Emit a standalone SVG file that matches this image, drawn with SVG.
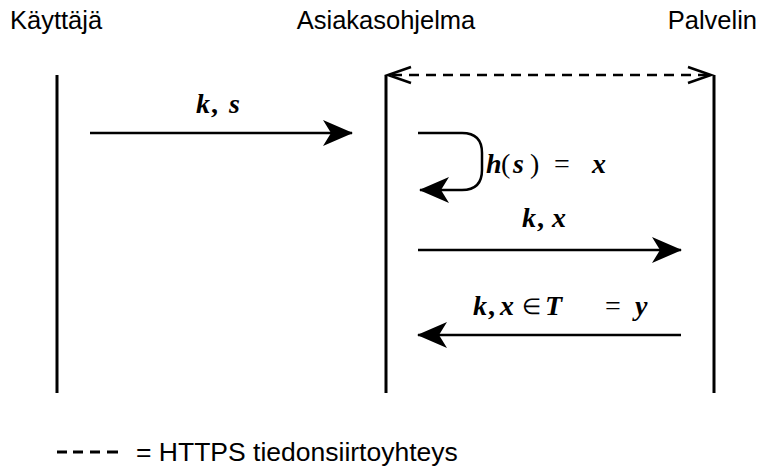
<svg xmlns="http://www.w3.org/2000/svg" width="760" height="466" viewBox="0 0 760 466">
<style>
.hdr{font-family:"Liberation Sans",Arial,sans-serif;font-size:25.5px;fill:#000}
.leg{font-family:"Liberation Sans",Arial,sans-serif;font-size:26.5px;fill:#000}
.m{font-family:"Liberation Serif","Times New Roman",serif;font-size:28px;font-weight:bold;fill:#000}
.v{font-style:italic}
.o{font-weight:normal}
.life{stroke:#000;stroke-width:3;fill:none}
.msg{stroke:#000;stroke-width:2.5;fill:none;marker-end:url(#ah)}
.dash{stroke:#000;stroke-width:2.5;fill:none;stroke-dasharray:10 7}
.chev{stroke:#000;stroke-width:2.5;fill:none}
</style>
<defs>
<marker id="ah" viewBox="0 0 30 26" refX="29" refY="13" markerWidth="30" markerHeight="26" markerUnits="userSpaceOnUse" orient="auto">
<path d="M0,0 L30,13 L0,26 L8,13 Z" fill="#000"/>
</marker>
</defs>
<rect width="760" height="466" fill="#fff"/>
<g id="kayttaja">
<text class="hdr" x="10" y="29">Käyttäjä</text>
<line class="life" x1="57" y1="75" x2="57" y2="393"/>
</g>
<g id="asiakasohjelma">
<text class="hdr" x="386" y="29" text-anchor="middle">Asiakasohjelma</text>
<line class="life" x1="386" y1="75" x2="386" y2="393"/>
</g>
<g id="palvelin">
<text class="hdr" x="757" y="29" text-anchor="end">Palvelin</text>
<line class="life" x1="714" y1="75" x2="714" y2="393"/>
</g>
<g id="connectors">
<line class="dash" x1="392" y1="75" x2="708" y2="75"/>
<path class="chev" d="M411,67 L388,75 L411,83"/>
<path class="chev" d="M688,67 L711,75 L688,83"/>
<line class="msg" x1="90" y1="133" x2="352" y2="133"/>
<path class="msg" d="M418,133 H462 Q482,133 482,153 V170 Q482,190 462,190 H420"/>
<line class="msg" x1="418" y1="250" x2="681" y2="250"/>
<line class="msg" x1="681" y1="335" x2="418" y2="335"/>
</g>
<g id="labels">
<text class="m" y="113"><tspan class="v" x="196">k</tspan><tspan x="211">,</tspan><tspan class="v" x="229">s</tspan></text>
<text class="m" y="173"><tspan class="v" x="486">h</tspan><tspan class="o" x="501">(</tspan><tspan class="v" x="513">s</tspan><tspan class="o" x="530">)</tspan><tspan class="o" x="554">=</tspan><tspan class="v" x="592">x</tspan></text>
<text class="m" y="227"><tspan class="v" x="522">k</tspan><tspan x="537">,</tspan><tspan class="v" x="552">x</tspan></text>
<text class="m" y="315"><tspan class="v" x="473">k</tspan><tspan x="488">,</tspan><tspan class="v" x="500">x</tspan></text>
<text class="m o" x="522" y="314" style="font-size:22px">∈</text>
<text class="m" y="315"><tspan class="v" x="545">T</tspan><tspan class="o" x="605">=</tspan><tspan class="v" x="635">y</tspan></text>
</g>
<g id="legend">
<path d="M57,452 H67 M73,452 H83 M90,452 H100 M107,452 H118" stroke="#000" stroke-width="3"/>
<text class="leg" x="136" y="461">= HTTPS tiedonsiirtoyhteys</text>
</g>
</svg>
